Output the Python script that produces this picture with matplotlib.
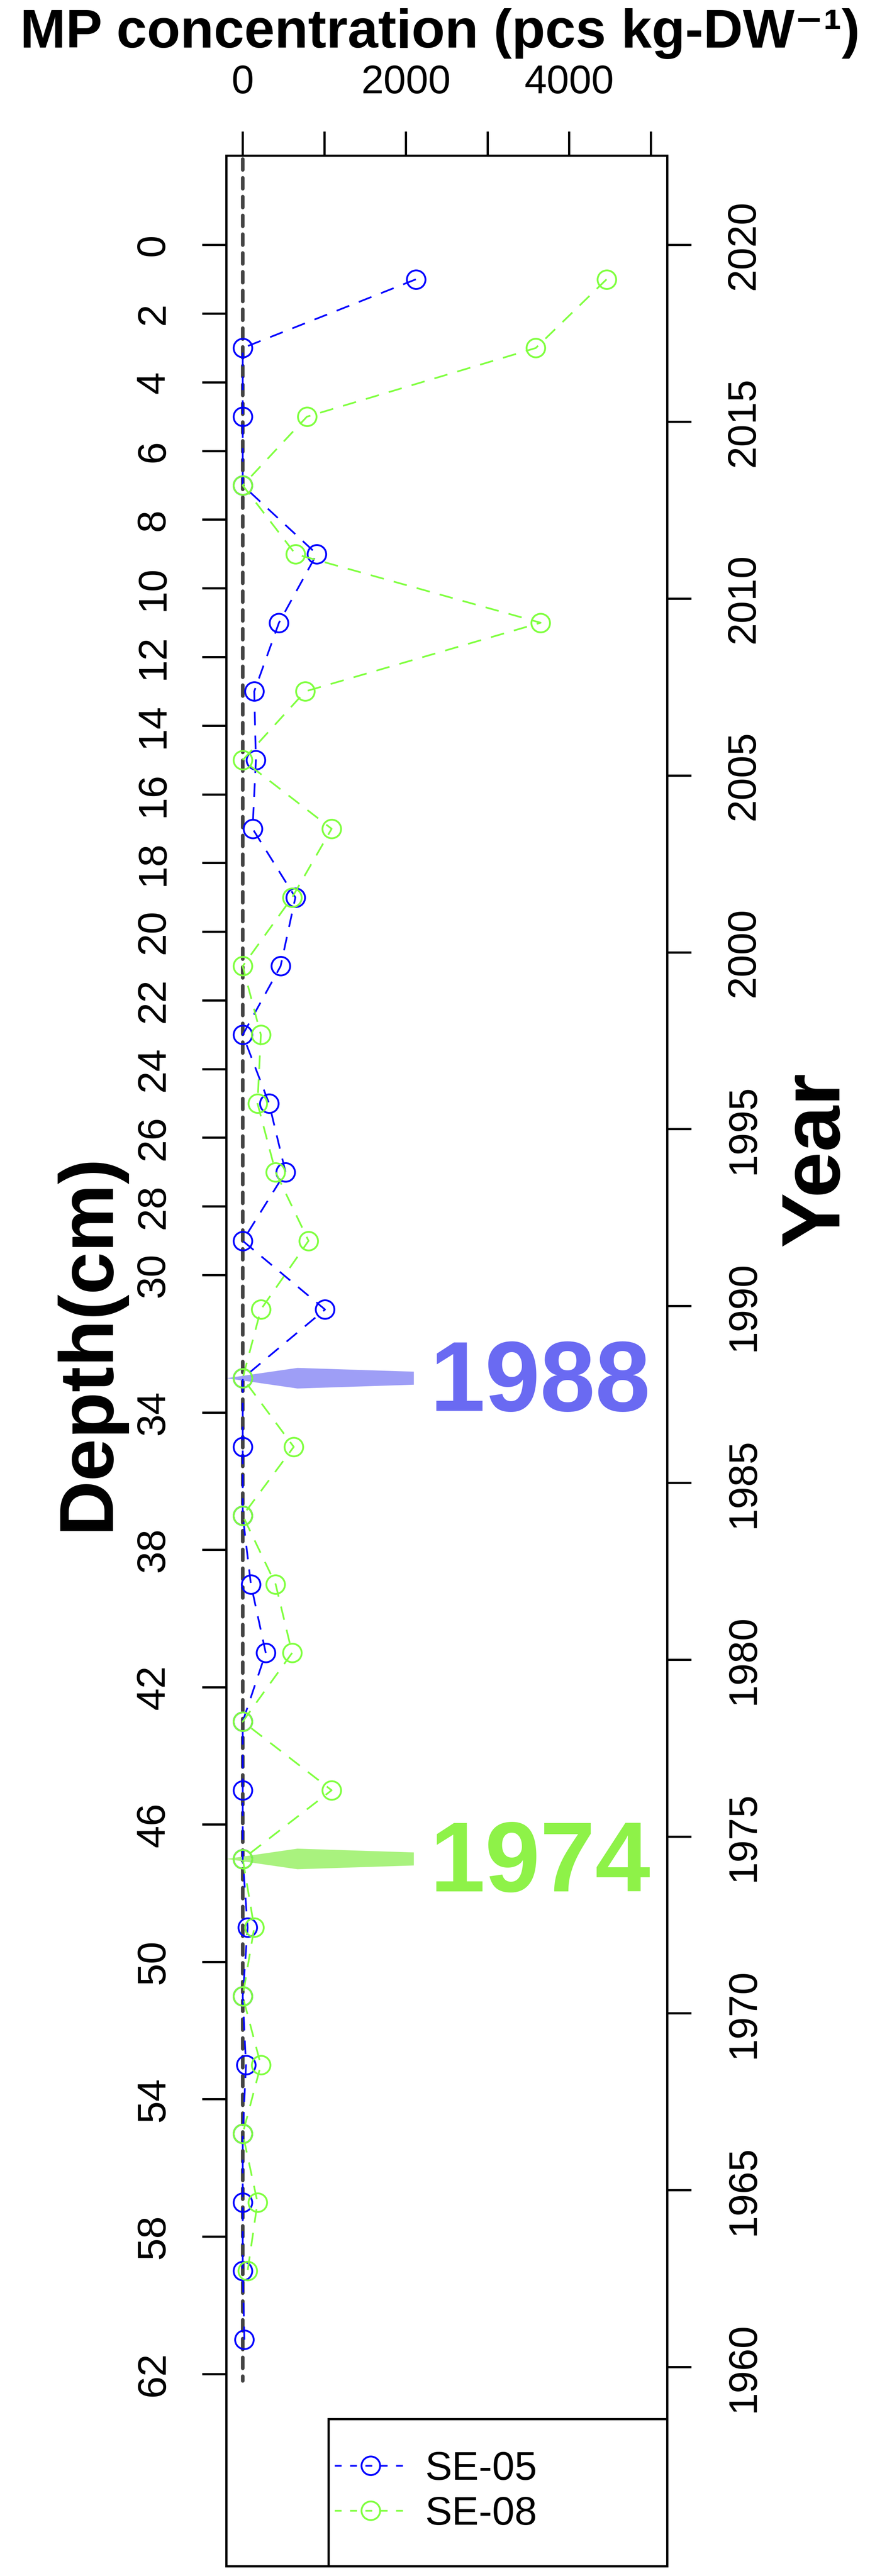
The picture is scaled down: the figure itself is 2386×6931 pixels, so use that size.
import matplotlib
matplotlib.use("Agg")
import matplotlib.pyplot as plt
from matplotlib.patches import Polygon, Rectangle
from matplotlib.lines import Line2D

plt.rcParams['font.family'] = ['Liberation Sans', 'DejaVu Sans']

depth_05 = [1, 3, 5, 7, 9, 11, 13, 15, 17, 19, 21, 23, 25, 27, 29, 31, 33, 35, 37, 39, 41, 43, 45, 47, 49, 51, 53, 55, 57, 59, 61]
mp_05 = [2120, 0, 0, 0, 907, 444, 141, 161, 121, 645, 464, 0, 323, 524, 0, 1008, 0, 0, 0, 100, 282, 0, 0, 0, 60, 0, 40, 0, 0, 0, 20]
depth_08 = [1, 3, 5, 7, 9, 11, 13, 15, 17, 19, 21, 23, 25, 27, 29, 31, 33, 35, 37, 39, 41, 43, 45, 47, 49, 51, 53, 55, 57, 59]
mp_08 = [4456, 3589, 786, 0, 645, 3649, 766, 0, 1089, 605, 0, 222, 181, 403, 806, 222, 0, 625, 0, 403, 605, 0, 1089, 0, 141, 0, 222, 0, 181, 60]
x_ticks = [0, 1000, 2000, 3000, 4000, 5000]
x_ticklabels = ['0', '', '2000', '', '4000', '']
depth_ticks = [0, 2, 4, 6, 8, 10, 12, 14, 16, 18, 20, 22, 24, 26, 28, 30, 34, 38, 42, 46, 50, 54, 58, 62]
year_ticks = [2020, 2015, 2010, 2005, 2000, 1995, 1990, 1985, 1980, 1975, 1970, 1965, 1960]
cm_per_year = 1.03
marks = [(33, '1988', '#6a6af2', '#9e9ef6'), (47, '1974', '#8ef248', '#a9f27e')]
series_names = ['SE-05', 'SE-08']
colors = ['#0000ff', '#80ff40']

fig = plt.figure(figsize=(23.86, 69.31), dpi=100)
ax = fig.add_axes([609/2386, 1-6905/6931, (1795-609)/2386, (6905-419)/6931])
ax.set_xlim(-200, 5200)
ax.set_ylim(67.6, -2.6)

lw_box = 4.3
for s in ax.spines.values():
    s.set_linewidth(lw_box)

ax.plot([0, 0], [-2.5, 62.2], color='#444444', lw=7, dashes=(3, 2.2), dash_capstyle='round', zorder=1)

for d, v, c in [(depth_05, mp_05, colors[0]), (depth_08, mp_08, colors[1])]:
    ax.plot(v, d, color=c, lw=3.3, dashes=(8, 6), marker='o', markersize=36,
            markerfacecolor='none', markeredgecolor=c, markeredgewidth=3.5, zorder=3)

ax.xaxis.tick_top()
ax.set_xticks(x_ticks)
ax.set_xticklabels(x_ticklabels)
ax.set_yticks(depth_ticks)
ax.set_yticklabels([str(t) for t in depth_ticks], rotation=90, va='center')
ax.tick_params(axis='both', labelsize=78, length=47, width=lw_box, pad=58)

ax2 = ax.twinx()
ax2.set_ylim(ax.get_ylim())
ax2.set_yticks([(2020 - y) * cm_per_year for y in year_ticks])
ax2.set_yticklabels([str(y) for y in year_ticks], rotation=90, va='center')
ax2.tick_params(axis='y', labelsize=78, length=47, width=lw_box, pad=65)
for s in ax2.spines.values():
    s.set_linewidth(lw_box)

for dep, txt, tc, pc in marks:
    poly = Polygon([(-200, dep), (671, dep - 0.3), (2096, dep - 0.19), (2096, dep + 0.19), (671, dep + 0.3)],
                   closed=True, facecolor=pc, edgecolor='none', zorder=2)
    ax.add_patch(poly)
    ax.text(2290, dep + 0.2, txt, color=tc, fontsize=192, fontweight='bold', va='center', ha='left', zorder=4)

ax.add_patch(Rectangle((0.232, 0), 0.768, 0.061, transform=ax.transAxes, facecolor='white',
                       edgecolor='black', lw=lw_box, zorder=5))
handles = [Line2D([], [], color=c, lw=3.3, dashes=(4, 5), marker='o', markersize=36,
                  markerfacecolor='none', markeredgewidth=3.5) for c in colors]
leg = ax.legend(handles, series_names, loc='upper left', bbox_to_anchor=(0.245, 0.048), frameon=False,
                fontsize=78, handlelength=1.8, handletextpad=0.45, labelspacing=0.2, borderpad=0, borderaxespad=0)
leg.set_zorder(6)

fig.text(0.496, 1-128/6931, 'MP concentration (pcs kg-DW\u207b\u00b9)', fontsize=106, fontweight='bold',
         ha='center', va='baseline')
fig.text(0.100, 0.479, 'Depth(cm)', fontsize=148, fontweight='bold', rotation=90, ha='center', va='center')
fig.text(0.921, 0.550, 'Year', fontsize=160, fontweight='bold', rotation=90, ha='center', va='center')

fig.savefig('out.png', dpi=100)
